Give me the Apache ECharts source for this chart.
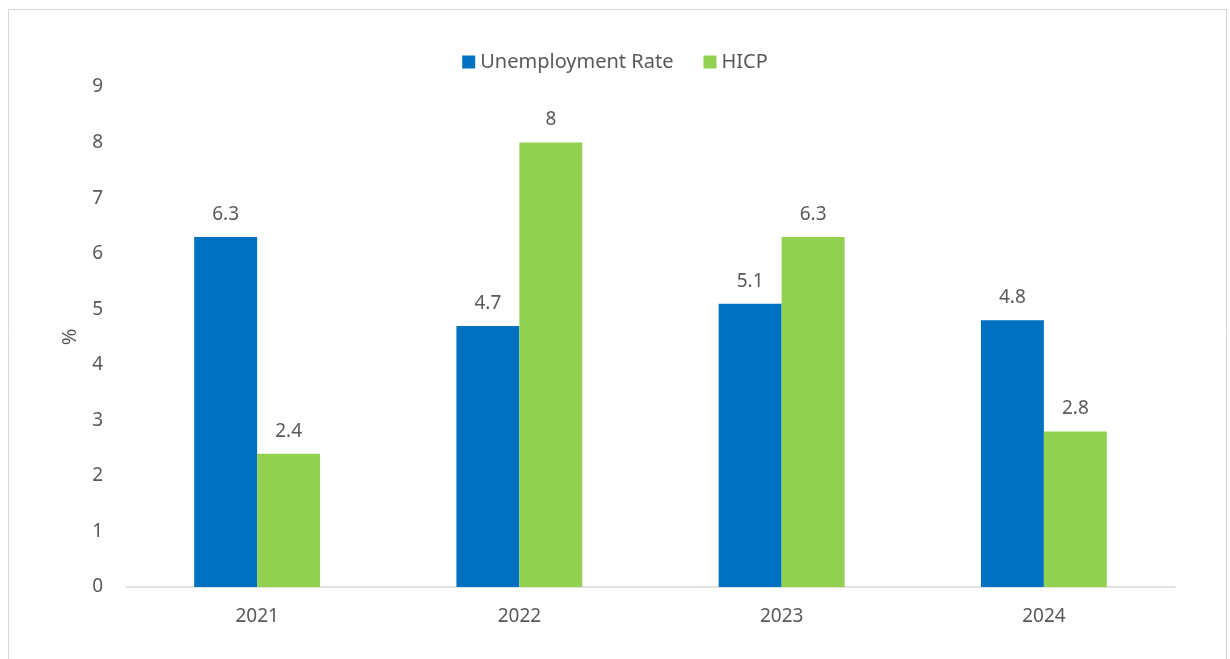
<!DOCTYPE html>
<html>
<head>
<meta charset="utf-8">
<script src="https://cdn.jsdelivr.net/npm/echarts@6/dist/echarts.min.js"></script>
<style>
  html, body { margin: 0; padding: 0; background: #fff; }
  #chart { width: 1230px; height: 659px; }
</style>
</head>
<body>
<div id="chart"></div>
<script>
const years = ['2021', '2022', '2023', '2024']
const unemployment = [6.3, 4.7, 5.1, 4.8]
const hicp = [2.4, 8, 6.3, 2.8]

const font = '"Noto Sans", "Open Sans", sans-serif'
const txt = '#595959'

let chart = echarts.init(document.getElementById('chart'))
chart.setOption({
  animation: false,
  textStyle: { fontFamily: font, color: txt },
  graphic: [{
    type: 'rect',
    silent: true,
    shape: { x: 8.5, y: 9.5, width: 1218, height: 700 },
    style: { fill: 'none', stroke: '#d9d9d9', lineWidth: 1 }
  }],
  legend: {
    top: 47,
    left: 'center',
    icon: 'rect',
    itemWidth: 13,
    itemHeight: 13,
    itemGap: 30,
    textStyle: { fontSize: 20, color: txt, fontFamily: font },
    data: ['Unemployment Rate', 'HICP']
  },
  grid: { left: 126, right: 55, top: 87, bottom: 72 },
  xAxis: {
    type: 'category',
    data: years,
    axisTick: { show: false },
    axisLine: { lineStyle: { color: '#d9d9d9', width: 1.5 } },
    axisLabel: { fontSize: 19, color: txt, margin: 20 }
  },
  yAxis: {
    type: 'value',
    min: 0,
    max: 9,
    interval: 1,
    name: '%',
    nameLocation: 'middle',
    nameGap: 46,
    nameRotate: 90,
    nameTextStyle: { fontSize: 20, color: txt },
    splitLine: { show: false },
    axisLabel: { fontSize: 19, color: txt, margin: 23 }
  },
  series: [
    {
      name: 'Unemployment Rate',
      type: 'bar',
      data: unemployment,
      color: '#0070c0',
      barGap: '0%',
      barCategoryGap: '52%',
      label: { show: true, position: 'top', distance: 13, fontSize: 19, color: txt }
    },
    {
      name: 'HICP',
      type: 'bar',
      data: hicp,
      color: '#92d050',
      label: { show: true, position: 'top', distance: 13, fontSize: 19, color: txt }
    }
  ]
})
</script>
</body>
</html>
